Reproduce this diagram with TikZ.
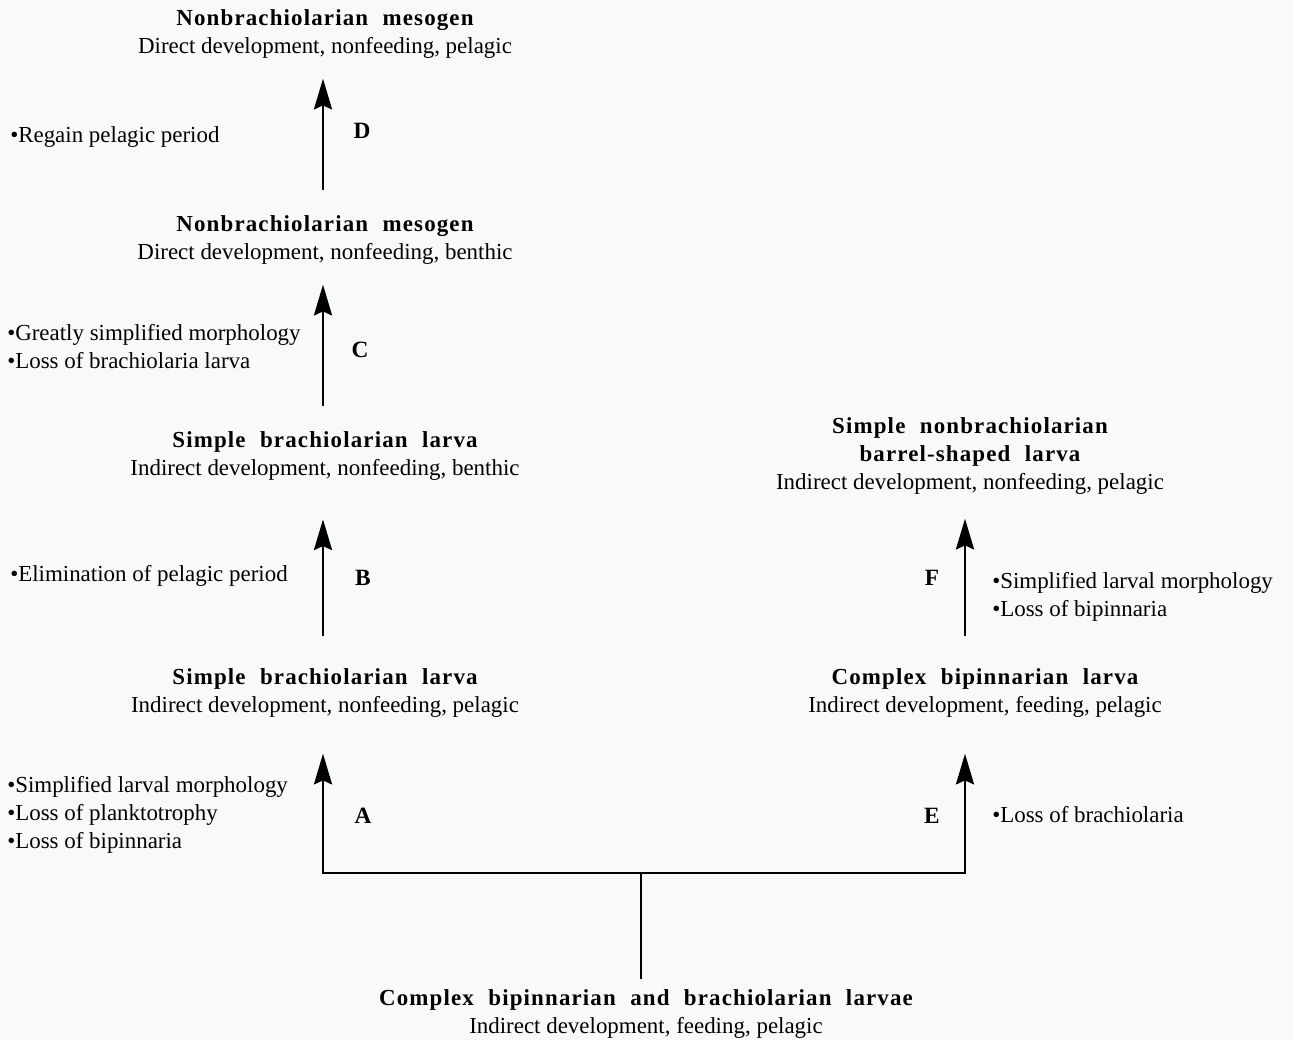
\documentclass[tikz,border=0pt]{standalone}
\usepackage{fontspec}
\setmainfont{Liberation Serif}
\newfontfamily\ttlfont[LetterSpace=5,WordSpace=2.1]{Liberation Serif}
\usetikzlibrary{arrows.meta}
\definecolor{bg}{rgb}{0.973,0.98,0.98}
\begin{document}
\begin{tikzpicture}[x=0.75pt,y=-0.75pt,
  stage/.style={align=center,inner sep=0pt,font=\fontsize{17.2}{21}\selectfont},
  note/.style={align=left,anchor=west,inner sep=0pt,font=\fontsize{17.2}{21}\selectfont},
  lab/.style={inner sep=0pt,font=\fontsize{17.5}{18}\selectfont\bfseries},
  ln/.style={line width=2.1pt},
  arr/.style={ln,-{Stealth[length=23pt,width=13.5pt,inset=3pt]}}]
\fill[bg] (0,0) rectangle (1293,1040);
\useasboundingbox (0,0) rectangle (1293,1040);
\newcommand{\ttl}[1]{{\ttlfont\bfseries #1}}
% stages
\node[stage] (n1) at (325,34) {\ttl{Nonbrachiolarian mesogen}\\Direct development, nonfeeding, pelagic};
\node[stage] (n2) at (325,240) {\ttl{Nonbrachiolarian mesogen}\\Direct development, nonfeeding, benthic};
\node[stage] (n3) at (325,456) {\ttl{Simple brachiolarian larva}\\Indirect development, nonfeeding, benthic};
\node[stage] (n4) at (325,693) {\ttl{Simple brachiolarian larva}\\Indirect development, nonfeeding, pelagic};
\node[stage] (r4) at (985,693) {\ttl{Complex bipinnarian larva}\\Indirect development, feeding, pelagic};
\node[stage] (r3) at (970,456) {\ttl{Simple nonbrachiolarian}\\\ttl{barrel-shaped larva}\\Indirect development, nonfeeding, pelagic};
\node[stage] (b) at (646,1014) {\ttl{Complex bipinnarian and brachiolarian larvae}\\Indirect development, feeding, pelagic};
% junctions
\coordinate (jL) at (323,873);
\coordinate (jM) at (641,873);
\coordinate (jR) at (965,873);
\draw[ln] (b.north -| jM) ++(0,-10) -- (jM);
\draw[ln,line cap=rect] (jL) -- (jR);
\draw[arr,shorten >=27pt] (jL) -- (n4.south -| jL);
\draw[arr,shorten >=27pt] (jR) -- (r4.south -| jR);
\draw[arr,shorten <=24pt,shorten >=29pt] (n4.north -| jL) -- (n3.south -| jL);
\draw[arr,shorten <=24pt,shorten >=18pt] (r4.north -| jR) -- (r3.south -| jR);
\draw[arr,shorten <=19pt,shorten >=15pt] (n3.north -| jL) -- (n2.south -| jL);
\draw[arr,shorten <=19pt,shorten >=15pt] (n2.north -| jL) -- (n1.south -| jL);
% letters
\node[lab] (lA) at (363,816) {A};
\node[lab] (lB) at (363,578) {B};
\node[lab] (lC) at (360,350) {C};
\node[lab] (lD) at (362,131) {D};
\node[lab] (lE) at (932,816) {E};
\node[lab] (lF) at (932,578) {F};
% notes
\node[note] (tD) at (10,137) {\textbullet Regain pelagic period};
\node[note] (tC) at (7,347) {\textbullet Greatly simplified morphology\\\textbullet Loss of brachiolaria larva};
\node[note] (tB) at (10,576) {\textbullet Elimination of pelagic period};
\node[note] (tA) at (7,815) {\textbullet Simplified larval morphology\\\textbullet Loss of planktotrophy\\\textbullet Loss of bipinnaria};
\node[note] (tE) at (992,815) {\textbullet Loss of brachiolaria};
\node[note] (tF) at (992,597) {\textbullet Simplified larval morphology\\\textbullet Loss of bipinnaria};
\end{tikzpicture}
\end{document}
